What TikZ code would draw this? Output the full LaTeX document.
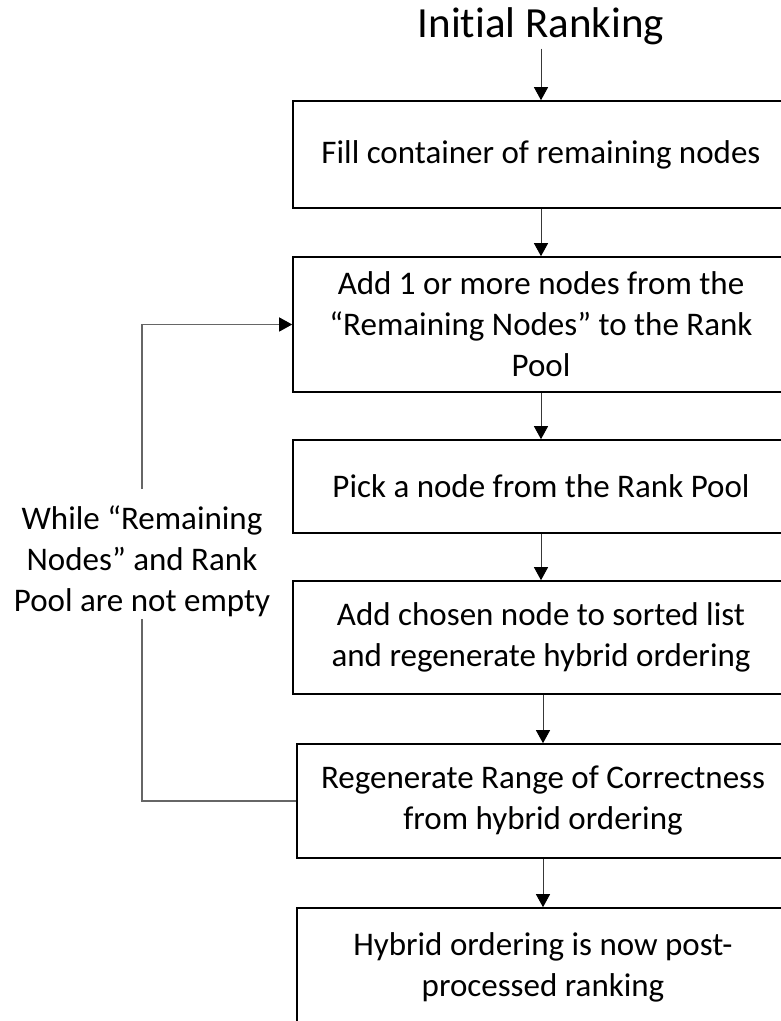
\documentclass[tikz,border=0pt]{standalone}
\usepackage{fontspec}
\setmainfont{Carlito}[Ligatures={NoCommon,NoContextual,NoRare},RawFeature={-liga;-clig;-calt;-dlig}]
\usetikzlibrary{arrows.meta}

% keep t and i as separate glyphs
\newcommand{\nolig}{\kern0pt{}}

\tikzset{
  stepbox/.style={draw=black, line width=1.6pt, inner sep=0pt, align=center,
    font=\fontsize{33}{41}\selectfont},
  wide/.style={minimum width=496pt},
  narrow/.style={minimum width=492pt},
  flow/.style={draw=black!78, line width=1pt,
    -{Triangle[width=14pt,length=13pt,color=black]}},
  loopline/.style={draw=black!60, line width=1.3pt},
  looptip/.style={-{Triangle[width=14pt,length=13pt,color=black]}},
  cond/.style={align=center, inner sep=7pt, font=\fontsize{33}{41}\selectfont},
}

\begin{document}
\begin{tikzpicture}[x=1pt,y=1pt]
\useasboundingbox (0,0) rectangle (781,1021);

% heading
\node[font=\fontsize{43}{52}\selectfont, anchor=base, inner sep=3pt] (title) at (541,983) {Init\nolig ial Ranking};

% process steps
\node[stepbox, wide, minimum height=107pt] (b1) at (541,866.5)
  {Fill container of remaining nodes};
\node[stepbox, wide, minimum height=135pt] (b2) at (541,696.5)
  {Add 1 or more nodes from the\\“Remaining Nodes” to the Rank\\Pool};
\node[stepbox, wide, minimum height=93pt] (b3) at (541,534.5)
  {Pick a node from the Rank Pool};
\node[stepbox, wide, minimum height=113pt] (b4) at (541,383.5)
  {Add chosen node to sorted list\\and regenerate hybrid ordering};
\node[stepbox, narrow, minimum height=114pt] (b5) at (543,220)
  {Regenerate Range of Correctness\\from hybrid ordering};
\node[stepbox, narrow, minimum height=118pt] (b6) at (543,54)
  {Hybrid ordering is now post-\\processed ranking};

% loop condition
\node[cond] (loopcond) at (142,460)
  {While “Remaining\\Nodes” and Rank\\Pool are not empty};

% main flow
\draw[flow] (title.south) -- (b1.north);
\draw[flow] (b1.south) -- (b2.north);
\draw[flow] (b2.south) -- (b3.north);
\draw[flow] (b3.south) -- (b4.north);
\draw[flow] (b4.south -| b5.north) -- (b5.north);
\draw[flow] (b5.south) -- (b6.north);

% loop back, broken around the condition text
\draw[loopline] (b5.west) -| ([yshift=5pt]loopcond.south);
\draw[loopline, looptip] ([yshift=9pt]loopcond.north) |- (b2.west);
\end{tikzpicture}
\end{document}
